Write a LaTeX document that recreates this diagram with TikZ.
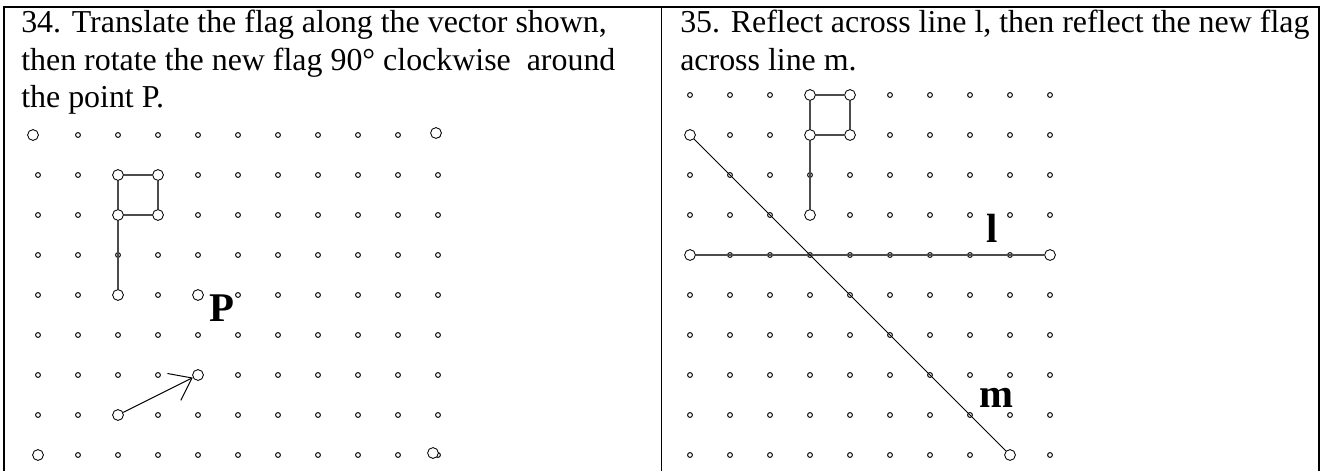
\documentclass[tikz,border=0pt]{standalone}
\usepackage{fontspec}
\setmainfont{Liberation Serif}
\usepackage{xcolor}
\usetikzlibrary{arrows.meta}

\tikzset{
  gridpt/.style={draw=black, line width=0.7pt},
  ptcirc/.style={circle, draw=black, line width=0.6pt, fill=white,
    minimum size=0.27cm, inner sep=0pt},
  flagline/.style={black!70, line width=0.8pt},
  prompt/.style={anchor=base west, inner sep=0pt,
    font=\fontsize{22.7}{26}\selectfont},
  tag/.style={inner sep=0pt, font=\fontsize{29}{29}\selectfont\bfseries},
}

\begin{document}
\begin{tikzpicture}

\useasboundingbox (0,0) rectangle (33,11.775);

% Frame
\draw[line width=1.4pt] (0.1,0) -- (0.1,11.6) -- (32.975,11.6) -- (32.975,0);
\draw[line width=1.4pt] (16.5375,0) -- (16.5375,11.6);

% Questions
\node[prompt] (q34a) at (0.525,10.95) {34. Translate the flag along the vector shown,};
\node[prompt] (q34b) at (0.525,10.0125) {then rotate the new flag 90° clockwise\ \ around};
\node[prompt] (q34c) at (0.525,9.075) {the point P.};
\node[prompt] (q35a) at (17.0,10.95) {35. Reflect across line l, then reflect the new flag};
\node[prompt] (q35b) at (17.0,10.0125) {across line m.};

% Dot grids (no dot under the top-left corner circle)
\foreach \i in {0,...,10}
  \foreach \j in {0,...,8}{
    \ifnum\i\j=8 \else
      \draw[gridpt] (0.95+\i,0.4+\j) circle (0.06);
    \fi
  }
\foreach \i in {0,...,9}
  \foreach \j in {0,...,9}
    \draw[gridpt] (17.25+\i,0.4+\j) circle (0.06);

% Left: corners
\node[ptcirc] (cA) at (0.825,8.4) {};
\node[ptcirc] (cB) at (10.9,8.45) {};
\node[ptcirc] (cC) at (0.95,0.4) {};
\node[ptcirc] (cD) at (10.825,0.45) {};

% Left: flag
\node[ptcirc] (fa) at (2.95,7.4) {};
\node[ptcirc] (fb) at (3.95,7.4) {};
\node[ptcirc] (fc) at (2.95,6.4) {};
\node[ptcirc] (fd) at (3.95,6.4) {};
\node[ptcirc] (fe) at (2.95,4.4) {};
\draw[flagline] (fa) -- (fb);
\draw[flagline] (fb) -- (fd);
\draw[flagline] (fc) -- (fd);
\draw[flagline] (fa) -- (fc);
\draw[flagline] (fc) -- (fe);

% Left: point P
\node[ptcirc] (ptP) at (4.95,4.4) {};
\node[tag] (lblP) at (5.55,4.06) {P};

% Left: vector
\node[ptcirc] (va) at (2.95,1.4) {};
\node[ptcirc] (vb) at (4.95,2.4) {};
\draw[line width=0.7pt, -{Straight Barb[length=0.5cm,width=0.75cm]}] (va) -- (vb);

% Right: flag
\node[ptcirc] (ga) at (20.25,9.4) {};
\node[ptcirc] (gb) at (21.25,9.4) {};
\node[ptcirc] (gc) at (20.25,8.4) {};
\node[ptcirc] (gd) at (21.25,8.4) {};
\node[ptcirc] (ge) at (20.25,6.4) {};
\draw[flagline] (ga) -- (gb);
\draw[flagline] (gb) -- (gd);
\draw[flagline] (gc) -- (gd);
\draw[flagline] (ga) -- (gc);
\draw[flagline] (gc) -- (ge);

% Right: line l
\node[ptcirc] (la) at (17.25,5.4) {};
\node[ptcirc] (lb) at (26.25,5.4) {};
\draw[flagline] (la) -- (lb);
\node[tag] (lblL) at (24.8,6.06) {l};

% Right: line m
\node[ptcirc] (ma) at (17.25,8.4) {};
\node[ptcirc] (mb) at (25.25,0.4) {};
\draw[line width=0.7pt] (ma) -- (mb);
\node[tag] (lblM) at (24.9,1.84) {m};

\end{tikzpicture}
\end{document}
